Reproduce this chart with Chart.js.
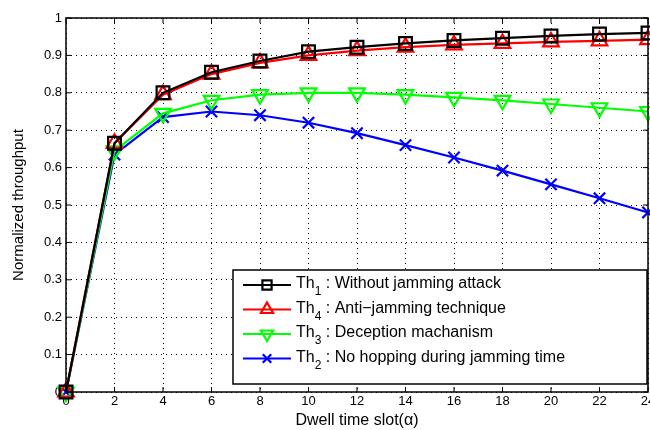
<!DOCTYPE html>
<html>
<head>
<meta charset="utf-8">
<script src="https://cdn.jsdelivr.net/npm/chart.js@4"></script>
<style>
  body { margin: 0; background: #fff; }
  #wrap { width: 650px; height: 430px; }
</style>
</head>
<body>
<div id="wrap"><canvas id="chart" width="650" height="430"></canvas></div>
<script>
// Data
const slots = [0, 2, 4, 6, 8, 10, 12, 14, 16, 18, 20, 22, 24];
const th1 = [0, 0.665, 0.80, 0.855, 0.885, 0.91, 0.922, 0.932, 0.94, 0.946, 0.952, 0.957, 0.96];
const th4 = [0, 0.665, 0.795, 0.85, 0.88, 0.90, 0.913, 0.922, 0.928, 0.932, 0.936, 0.939, 0.942];
const th3 = [0, 0.645, 0.745, 0.78, 0.795, 0.80, 0.80, 0.795, 0.788, 0.78, 0.77, 0.76, 0.75];
const th2 = [0, 0.635, 0.735, 0.75, 0.74, 0.72, 0.692, 0.66, 0.627, 0.592, 0.555, 0.518, 0.48];

const legendItems = [
  { sub: '1', text: ' : Without jamming attack', color: '#000000', style: 'rect', rot: 0 },
  { sub: '4', text: ' : Anti\u2212jamming technique', color: '#ff0000', style: 'triangle', rot: 0 },
  { sub: '3', text: ' : Deception machanism', color: '#00ff00', style: 'triangle', rot: 180 },
  { sub: '2', text: ' : No hopping during jamming time', color: '#0000ff', style: 'crossRot', rot: 0 }
];

const font = '"Liberation Sans", Arial, sans-serif';
const markerSize = { rect: 9, triangle: 9, crossRot: 8 };
const legendMarkerSize = { rect: 6.5, triangle: 7, crossRot: 6 };

function series(data, color, style, rot) {
  return {
    data: slots.map((x, i) => ({ x, y: data[i] })),
    borderColor: color,
    backgroundColor: 'rgba(0,0,0,0)',
    pointBorderColor: color,
    pointBackgroundColor: 'rgba(0,0,0,0)',
    pointStyle: style,
    rotation: rot,
    pointRadius: markerSize[style],
    pointBorderWidth: 2.2,
    borderWidth: 2.2,
    tension: 0
  };
}

const frame = {
  id: 'frame',
  afterDraw(chart) {
    const { ctx, chartArea: a, scales } = chart;
    ctx.save();
    ctx.strokeStyle = '#000';
    ctx.lineWidth = 1.5;
    ctx.strokeRect(a.left, a.top, a.right - a.left, a.bottom - a.top);
    // inward tick marks
    ctx.lineWidth = 1;
    slots.forEach(v => {
      const x = scales.x.getPixelForValue(v);
      ctx.beginPath();
      ctx.moveTo(x, a.bottom); ctx.lineTo(x, a.bottom - 5);
      ctx.moveTo(x, a.top); ctx.lineTo(x, a.top + 5);
      ctx.stroke();
    });
    for (let i = 0; i <= 10; i++) {
      const y = scales.y.getPixelForValue(i / 10);
      ctx.beginPath();
      ctx.moveTo(a.left, y); ctx.lineTo(a.left + 5, y);
      ctx.moveTo(a.right, y); ctx.lineTo(a.right - 5, y);
      ctx.stroke();
    }

    // legend box
    const bx = 233, by = 270, bw = 414, bh = 114;
    ctx.fillStyle = '#fff';
    ctx.fillRect(bx, by, bw, bh);
    ctx.lineWidth = 1.5;
    ctx.strokeRect(bx, by, bw, bh);
    legendItems.forEach((it, i) => {
      const cy = by + 15 + i * 24.5;
      ctx.strokeStyle = it.color;
      ctx.lineWidth = 2.2;
      ctx.beginPath();
      ctx.moveTo(bx + 10, cy); ctx.lineTo(bx + 58, cy);
      ctx.stroke();
      ctx.fillStyle = 'rgba(0,0,0,0)';
      Chart.helpers.drawPoint(ctx, { pointStyle: it.style, rotation: it.rot, radius: legendMarkerSize[it.style], borderWidth: 2 }, bx + 34, cy);
      ctx.fillStyle = '#000';
      ctx.textBaseline = 'alphabetic';
      ctx.font = '16px ' + font;
      let tx = bx + 63;
      ctx.fillText('Th', tx, cy + 3);
      tx += ctx.measureText('Th').width;
      ctx.font = '12px ' + font;
      ctx.fillText(it.sub, tx, cy + 10);
      tx += ctx.measureText(it.sub).width;
      ctx.font = '16px ' + font;
      ctx.fillText(it.text, tx, cy + 3);
    });
    ctx.restore();
  }
};

new Chart(document.getElementById('chart'), {
  type: 'line',
  data: {
    datasets: [
      series(th1, '#000000', 'rect', 0),
      series(th4, '#ff0000', 'triangle', 0),
      series(th3, '#00ff00', 'triangle', 180),
      series(th2, '#0000ff', 'crossRot', 0)
    ]
  },
  options: {
    responsive: false,
    animation: false,
    clip: false,
    layout: { autoPadding: false, padding: { top: 18, right: 2, left: 0, bottom: 0 } },
    plugins: { legend: { display: false }, tooltip: { enabled: false } },
    scales: {
      x: {
        type: 'linear', min: 0, max: 24,
        afterFit(s) { s.height = 38; s.paddingRight = 0; },
        ticks: { stepSize: 2, color: '#000', font: { family: font, size: 13 }, padding: 2, maxRotation: 0 },
        grid: { color: '#000', lineWidth: 1, drawTicks: false },
        border: { display: false, dash: [1, 4] },
        title: { display: true, text: 'Dwell time slot(\u03b1)', color: '#000', font: { family: font, size: 16 }, padding: { top: 0, bottom: 0 } }
      },
      y: {
        min: 0, max: 1,
        afterFit(s) { s.width = 66; },
        ticks: { stepSize: 0.1, color: '#000', font: { family: font, size: 13 }, padding: 4,
          callback: v => Math.round(v * 10) / 10 },
        grid: { color: '#000', lineWidth: 1, drawTicks: false },
        border: { display: false, dash: [1, 4] },
        title: { display: true, text: 'Normalized throughput', color: '#000', font: { family: font, size: 15 }, padding: { top: 10, bottom: 2 } }
      }
    }
  },
  plugins: [frame]
});
</script>
</body>
</html>
